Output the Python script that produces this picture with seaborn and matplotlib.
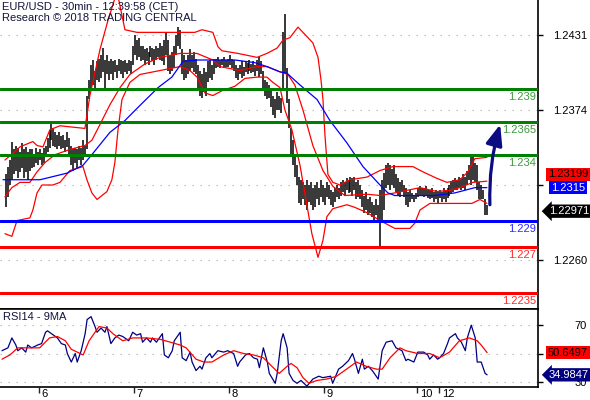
import matplotlib as mpl

mpl.use("Agg")

import matplotlib.pyplot as plt
from matplotlib.transforms import blended_transform_factory
import numpy as np
import seaborn as sns

sns.set_theme(style="white")
plt.rcParams["font.family"] = ["Liberation Sans", "DejaVu Sans"]

# ---- EUR/USD 30min bars (high / low), one per bar, oldest first ----
bar_high = [
    1.2325, 1.2331, 1.2336, 1.2350, 1.2344, 1.2347, 1.2345, 1.2342, 1.2349, 1.2344,
    1.2346, 1.2342, 1.2344, 1.2344, 1.2340, 1.2345, 1.2342, 1.2344, 1.2341, 1.2345,
    1.2347, 1.2353, 1.2359, 1.2363, 1.2360, 1.2357, 1.2355, 1.2357, 1.2354, 1.2355,
    1.2351, 1.2357, 1.2353, 1.2347, 1.2344, 1.2345, 1.2344, 1.2347, 1.2345, 1.2351,
    1.2347, 1.2385, 1.2397, 1.2408, 1.2412, 1.2404, 1.2411, 1.2413, 1.2416, 1.2421,
    1.2412, 1.2416, 1.2411, 1.2413, 1.2411, 1.2412, 1.2408, 1.2413, 1.2412, 1.2411,
    1.2412, 1.2410, 1.2412, 1.2411, 1.2423, 1.2431, 1.2427, 1.2429, 1.2423, 1.2423,
    1.2420, 1.2421, 1.2418, 1.2423, 1.2421, 1.2420, 1.2423, 1.2421, 1.2425, 1.2423,
    1.2427, 1.2433, 1.2427, 1.2416, 1.2418, 1.2423, 1.2431, 1.2437, 1.2435, 1.2420,
    1.2416, 1.2412, 1.2416, 1.2420, 1.2416, 1.2418, 1.2413, 1.2408, 1.2404, 1.2401,
    1.2406, 1.2403, 1.2411, 1.2412, 1.2408, 1.2413, 1.2413, 1.2414, 1.2412, 1.2413,
    1.2414, 1.2412, 1.2413, 1.2416, 1.2413, 1.2412, 1.2408, 1.2406, 1.2408, 1.2411,
    1.2407, 1.2411, 1.2410, 1.2412, 1.2409, 1.2411, 1.2408, 1.2412, 1.2414, 1.2411,
    1.2404, 1.2397, 1.2395, 1.2393, 1.2389, 1.2385, 1.2382, 1.2388, 1.2385, 1.2383,
    1.2433, 1.2447, 1.2406, 1.2382, 1.2360, 1.2351, 1.2338, 1.2332, 1.2323, 1.2321,
    1.2319, 1.2317, 1.2321, 1.2317, 1.2319, 1.2315, 1.2317, 1.2319, 1.2315, 1.2321,
    1.2317, 1.2315, 1.2319, 1.2317, 1.2313, 1.2312, 1.2315, 1.2317, 1.2315, 1.2319,
    1.2321, 1.2319, 1.2322, 1.2321, 1.2323, 1.2322, 1.2323, 1.2319, 1.2321, 1.2317,
    1.2313, 1.2309, 1.2312, 1.2306, 1.2308, 1.2304, 1.2302, 1.2306, 1.2302, 1.2313,
    1.2321, 1.2326, 1.2332, 1.2334, 1.2332, 1.2329, 1.2332, 1.2325, 1.2322, 1.2319,
    1.2321, 1.2317, 1.2315, 1.2312, 1.2313, 1.2311, 1.2309, 1.2311, 1.2315, 1.2316,
    1.2315, 1.2315, 1.2316, 1.2314, 1.2313, 1.2315, 1.2312, 1.2313, 1.2312, 1.2313,
    1.2312, 1.2315, 1.2313, 1.2315, 1.2317, 1.2319, 1.2321, 1.2322, 1.2321, 1.2323,
    1.2322, 1.2325, 1.2323, 1.2328, 1.2332, 1.2340, 1.2338, 1.2334, 1.2332, 1.2319,
    1.2317, 1.2313, 1.2306, 1.2302,
]
bar_low = [
    1.2300, 1.2308, 1.2317, 1.2321, 1.2325, 1.2328, 1.2322, 1.2327, 1.2330, 1.2322,
    1.2327, 1.2321, 1.2328, 1.2330, 1.2331, 1.2334, 1.2332, 1.2336, 1.2332, 1.2334,
    1.2338, 1.2342, 1.2345, 1.2351, 1.2347, 1.2346, 1.2344, 1.2347, 1.2344, 1.2345,
    1.2342, 1.2346, 1.2340, 1.2332, 1.2328, 1.2334, 1.2330, 1.2336, 1.2332, 1.2336,
    1.2340, 1.2344, 1.2382, 1.2391, 1.2393, 1.2389, 1.2397, 1.2395, 1.2398, 1.2403,
    1.2391, 1.2401, 1.2397, 1.2401, 1.2397, 1.2403, 1.2398, 1.2404, 1.2401, 1.2398,
    1.2403, 1.2401, 1.2404, 1.2401, 1.2408, 1.2416, 1.2412, 1.2414, 1.2411, 1.2412,
    1.2408, 1.2411, 1.2408, 1.2414, 1.2411, 1.2408, 1.2412, 1.2414, 1.2412, 1.2411,
    1.2408, 1.2416, 1.2404, 1.2401, 1.2404, 1.2406, 1.2416, 1.2423, 1.2420, 1.2401,
    1.2397, 1.2398, 1.2401, 1.2404, 1.2406, 1.2403, 1.2401, 1.2391, 1.2385, 1.2383,
    1.2388, 1.2385, 1.2395, 1.2398, 1.2397, 1.2401, 1.2406, 1.2407, 1.2406, 1.2408,
    1.2406, 1.2407, 1.2407, 1.2408, 1.2406, 1.2404, 1.2398, 1.2397, 1.2401, 1.2398,
    1.2400, 1.2403, 1.2401, 1.2404, 1.2402, 1.2403, 1.2400, 1.2404, 1.2399, 1.2401,
    1.2391, 1.2385, 1.2382, 1.2383, 1.2376, 1.2370, 1.2368, 1.2374, 1.2374, 1.2372,
    1.2389, 1.2402, 1.2379, 1.2360, 1.2338, 1.2332, 1.2323, 1.2317, 1.2303, 1.2302,
    1.2306, 1.2302, 1.2298, 1.2304, 1.2302, 1.2298, 1.2300, 1.2306, 1.2302, 1.2308,
    1.2304, 1.2302, 1.2308, 1.2306, 1.2302, 1.2300, 1.2304, 1.2308, 1.2306, 1.2309,
    1.2312, 1.2309, 1.2313, 1.2311, 1.2312, 1.2309, 1.2313, 1.2306, 1.2308, 1.2306,
    1.2300, 1.2296, 1.2298, 1.2294, 1.2296, 1.2293, 1.2290, 1.2294, 1.2290, 1.2271,
    1.2290, 1.2298, 1.2315, 1.2317, 1.2313, 1.2317, 1.2315, 1.2312, 1.2309, 1.2308,
    1.2312, 1.2308, 1.2302, 1.2300, 1.2304, 1.2306, 1.2304, 1.2306, 1.2308, 1.2309,
    1.2309, 1.2308, 1.2309, 1.2307, 1.2306, 1.2307, 1.2304, 1.2306, 1.2303, 1.2307,
    1.2304, 1.2306, 1.2304, 1.2307, 1.2309, 1.2311, 1.2312, 1.2313, 1.2313, 1.2315,
    1.2313, 1.2315, 1.2313, 1.2317, 1.2321, 1.2317, 1.2321, 1.2319, 1.2313, 1.2306,
    1.2306, 1.2306, 1.2294, 1.2294,
]
last_close = 1.22971

# ---- Bollinger bands / moving average, sampled at bar positions ----
bb_upper_bar = [-0.5, 3.5, 7.1, 13.6, 15.7, 18.7, 22.2, 27.3, 39.9, 42.4, 47.5, 51.5, 56.1,
                60.1, 66.2, 77.8, 87.9, 95.4, 99.0, 104.5, 107.1, 109.1, 117.2, 126.8, 131.8,
                136.9, 139.9, 143.4, 147.5, 150.0, 155.0, 157.6, 159.1, 160.1, 161.1, 162.6,
                165.1, 168.7, 173.7, 182.3, 188.9, 195.4, 205.5, 210.6, 217.7, 222.7, 229.3,
                233.3, 236.8, 242.9]
bb_upper = [1.2336, 1.2341, 1.2346, 1.2350, 1.2347, 1.2346, 1.2359, 1.2362, 1.2360, 1.2385,
            1.2420, 1.2442, 1.2464, 1.2435, 1.2433, 1.2433, 1.2433, 1.2433, 1.2435, 1.2433,
            1.2422, 1.2419, 1.2417, 1.2414, 1.2417, 1.2421, 1.2427, 1.2429, 1.2437, 1.2433,
            1.2425, 1.2414, 1.2397, 1.2382, 1.2355, 1.2325, 1.2319, 1.2317, 1.2321, 1.2323,
            1.2328, 1.2331, 1.2331, 1.2327, 1.2322, 1.2319, 1.2321, 1.2327, 1.2337, 1.2338]

bb_mid_bar = [-0.5, 3.0, 7.1, 12.1, 15.7, 19.7, 24.7, 32.3, 39.9, 43.4, 47.5, 52.5, 57.6,
              62.6, 70.2, 77.8, 87.9, 96.5, 104.5, 108.1, 118.2, 126.8, 131.8, 138.4, 142.4,
              145.9, 150.0, 155.0, 160.1, 165.1, 171.2, 182.3, 188.9, 196.4, 209.1, 217.7,
              224.2, 229.3, 235.8, 242.9]
bb_mid = [1.2308, 1.2315, 1.2319, 1.2319, 1.2327, 1.2334, 1.2340, 1.2344, 1.2347, 1.2351,
          1.2363, 1.2378, 1.2391, 1.2401, 1.2409, 1.2414, 1.2417, 1.2417, 1.2412, 1.2407,
          1.2404, 1.2407, 1.2407, 1.2403, 1.2401, 1.2393, 1.2374, 1.2347, 1.2328, 1.2316,
          1.2309, 1.2310, 1.2309, 1.2311, 1.2315, 1.2312, 1.2313, 1.2315, 1.2319, 1.23199]

bb_lower_bar = [-0.5, 3.0, 5.6, 12.1, 13.6, 15.7, 18.2, 23.7, 27.3, 32.3, 38.9, 40.9, 43.4,
                46.0, 51.0, 53.5, 55.0, 56.6, 58.6, 62.6, 67.7, 77.8, 87.9, 92.9, 96.5, 100.5,
                104.5, 109.6, 115.6, 120.7, 126.8, 131.8, 134.8, 138.4, 140.9, 144.4, 148.5,
                151.5, 154.5, 157.6, 160.1, 162.1, 165.1, 172.2, 176.2, 182.3, 188.9, 196.4,
                204.0, 206.5, 209.1, 214.1, 223.2, 235.3, 239.4, 242.9]
bb_lower = [1.2280, 1.2278, 1.2290, 1.2292, 1.2298, 1.2311, 1.2317, 1.2317, 1.2319, 1.2328,
            1.2331, 1.2321, 1.2311, 1.2306, 1.2312, 1.2321, 1.2334, 1.2359, 1.2382, 1.2395,
            1.2401, 1.2404, 1.2407, 1.2404, 1.2399, 1.2387, 1.2385, 1.2389, 1.2392, 1.2398,
            1.2399, 1.2399, 1.2395, 1.2391, 1.2374, 1.2359, 1.2332, 1.2306, 1.2280, 1.2262,
            1.2275, 1.2293, 1.2299, 1.2302, 1.2300, 1.2296, 1.2290, 1.2284, 1.2284, 1.2288,
            1.2298, 1.2303, 1.2303, 1.2303, 1.2306, 1.2303]

ma_bar = [-1.5, 17.2, 30.8, 38.9, 43.9, 52.5, 60.1, 66.7, 76.8, 83.8, 89.4, 97.0, 115.6,
          125.7, 131.8, 138.4, 141.9, 148.5, 157.1, 163.6, 172.2, 180.3, 188.9, 192.9, 196.4,
          216.6, 226.7, 231.8, 236.8, 242.9]
ma_line = [1.2321, 1.2321, 1.2326, 1.2332, 1.2341, 1.2357, 1.2366, 1.2376, 1.2391, 1.2399,
           1.2411, 1.2412, 1.2412, 1.2410, 1.2407, 1.2403, 1.2402, 1.2393, 1.2382, 1.2366,
           1.2349, 1.2331, 1.2317, 1.2311, 1.2309, 1.2309, 1.2311, 1.2313, 1.2315, 1.2315]

# ---- RSI14 and its 9MA ----
rsi_bar = [-2, 1, 3, 5, 6, 8, 10, 11, 13, 16, 18, 20, 21, 24, 26, 28, 30, 31, 33, 35, 36, 38,
           40, 41, 43, 45, 46, 48, 50, 51, 53, 55, 57, 59, 60, 62, 64, 66, 68, 69, 71, 73, 74,
           76, 79, 80, 82, 84, 85, 88, 89, 91, 93, 94, 96, 98, 99, 101, 103, 104, 107, 110,
           112, 115, 117, 118, 121, 123, 125, 127, 128, 130, 132, 133, 136, 137, 139, 140, 142,
           143, 145, 147, 149, 152, 155, 158, 160, 164, 165, 168, 170, 173, 175, 176, 178, 180,
           181, 183, 185, 188, 190, 192, 195, 197, 200, 202, 203, 206, 208, 211, 213, 214, 216,
           218, 219, 221, 223, 224, 227, 228, 230, 232, 233, 235, 237, 238, 240, 242, 243]
rsi = [52, 54, 61, 56, 52, 54, 51, 56, 54, 56, 57, 65, 66, 63, 61, 57, 56, 50, 44, 50, 44, 52,
       64, 74, 76, 69, 65, 68, 65, 69, 57, 61, 63, 62, 61, 59, 65, 63, 64, 58, 61, 58, 61,
       58, 64, 49, 47, 52, 59, 65, 47, 45, 51, 44, 38, 41, 39, 47, 50, 47, 52, 51,
       52, 50, 41, 44, 49, 50, 47, 46, 40, 54, 44, 36, 29, 36, 59, 64, 54,
       36, 31, 29, 31, 27, 32, 34, 33, 34, 29, 39, 41, 45, 50, 46, 36, 46,
       39, 41, 38, 32, 52, 58, 59, 54, 52, 45, 46, 44, 51, 51, 49, 46, 49,
       46, 47, 50, 57, 61, 64, 61, 58, 52, 61, 70, 61, 44, 44, 36, 34.9847]

rsi_ma_bar = [-2, 2, 6, 11, 17, 22, 26, 30, 33, 39, 42, 47, 51, 54, 59, 64, 71, 78, 83, 88, 91,
              96, 100, 104, 110, 115, 120, 125, 130, 135, 138, 142, 144, 147, 150, 153, 157,
              162, 167, 172, 177, 182, 187, 190, 194, 199, 202, 208, 214, 219, 224, 229, 234,
              238, 240, 243]
rsi_ma = [46, 49, 54, 54, 54, 61, 62, 59, 53, 49, 59, 69, 68, 64, 59, 61, 61, 60, 58, 56, 54,
          46, 44, 44, 49, 52, 50, 49, 47, 40, 36, 41, 43, 40, 33, 29, 31, 32, 34, 39, 44,
          41, 39, 39, 47, 54, 52, 50, 50, 47, 51, 59, 61, 59, 56, 50.6497]

# ---- support / resistance levels and axis labels ----
level_values = [1.239, 1.2365, 1.234, 1.229, 1.227, 1.2235]
level_labels = ["1.239", "1.2365", "1.234", "1.229", "1.227", "1.2235"]
level_colors = ["#008000", "#008000", "#008000", "#0000ff", "#ff0000", "#ff0000"]
level_text_colors = ["#3a9a3a", "#3a9a3a", "#3a9a3a", "#2a2aff", "#ff2a2a", "#ff2a2a"]
price_ticks = [1.2431, 1.2374, 1.2317, 1.2260]
price_tick_labels = ["1.2431", "1.2374", "", "1.2260"]  # 1.2317 sits under the MA tag
rsi_ticks = [30, 50, 70]
rsi_tick_labels = ["30", "", "70"]  # 50 sits under the RSI-MA tag
day_pos = [16.5, 64.5, 112.5, 160.5, 207.5, 218.5]
day_labels = ["6", "7", "8", "9", "10", "12"]
arrow_start = (244.4, 1.2302)
arrow_end = (249.6, 1.2363)

W, H = 590, 400
fig = plt.figure(figsize=(W / 100, H / 100), dpi=100)
ax = fig.add_axes([0, 1 - 309 / H, 538 / W, 309 / H])
ax_rsi = fig.add_axes([0, 1 - 387 / H, 538 / W, 78 / H])
px = 72 / 100  # points per pixel

bars = np.arange(len(bar_high))
x_min, x_max = -3.0, 268.7

# ---- price panel ----
for v in price_ticks:
    ax.axhline(v, color="#b4b4b4", lw=0.8, ls=(0, (1.2, 6)), zorder=1)
ax.vlines(bars, bar_low, bar_high, color="black", lw=1.1, zorder=2)
sns.lineplot(x=bb_upper_bar, y=bb_upper, ax=ax, color="#ff0000", lw=0.9,
             estimator=None, sort=False, zorder=3)
sns.lineplot(x=bb_mid_bar, y=bb_mid, ax=ax, color="#ff0000", lw=0.9,
             estimator=None, sort=False, zorder=3)
sns.lineplot(x=bb_lower_bar, y=bb_lower, ax=ax, color="#ff0000", lw=0.9,
             estimator=None, sort=False, zorder=3)
sns.lineplot(x=ma_bar, y=ma_line, ax=ax, color="#0000ff", lw=0.9,
             estimator=None, sort=False, zorder=3)

blend = blended_transform_factory(ax.transAxes, ax.transData)
for v, lbl, c, tc in zip(level_values, level_labels, level_colors, level_text_colors):
    ax.axhline(v, color=c, lw=3 * px, zorder=4)
    ax.annotate(lbl, xy=(1, v), xycoords=blend, xytext=(-2, -8), textcoords="offset pixels",
                ha="right", va="center", fontsize=8, color=tc, zorder=5)

ax.annotate("", xy=arrow_end, xytext=arrow_start,
            arrowprops=dict(arrowstyle="-|>,head_length=1.25,head_width=0.5", lw=2.3,
                            color="#0b0b82", shrinkA=0, shrinkB=0, mutation_scale=10,
                            connectionstyle="arc3,rad=-0.08"), zorder=6)

ax.set_xlim(x_min, x_max)
ax.set_ylim(1.24576 - 309 * 0.0000760, 1.24576)
ax.set_xticks([])
ax.yaxis.tick_right()
ax.set_yticks(price_ticks, labels=price_tick_labels)
ax.tick_params(axis="y", direction="out", length=5 * px, width=1, pad=44 * px,
               labelsize=8, colors="black")
for t in ax.get_yticklabels():
    t.set_horizontalalignment("right")
for side in ["top", "left"]:
    ax.spines[side].set_visible(False)
for side in ["bottom", "right"]:
    ax.spines[side].set_color("black")
    ax.spines[side].set_linewidth(1.2)
ax.set_xlabel("")
ax.set_ylabel("")

# price tags
ax.annotate("1.23199", xy=(1, 1.2325), xycoords=blend, xytext=(30, 0),
            textcoords="offset pixels", ha="center", va="center", fontsize=8, color="black",
            bbox=dict(boxstyle="square,pad=0.15", fc="#ff0000", ec="none"), annotation_clip=False)
ax.annotate("1.2315", xy=(1, 1.2315), xycoords=blend, xytext=(30, 0),
            textcoords="offset pixels", ha="center", va="center", fontsize=8, color="white",
            bbox=dict(boxstyle="square,pad=0.15", fc="#0000ff", ec="none"), annotation_clip=False)
ax.annotate(f"{last_close:.5f}", xy=(1, last_close), xycoords=blend, xytext=(31, 0),
            textcoords="offset pixels", ha="center", va="center", fontsize=8, color="white",
            bbox=dict(boxstyle="larrow,pad=0.15", fc="black", ec="none"), annotation_clip=False)

fig.text(2 / W, 1 - 7 / H, "EUR/USD - 30min - 12:39:58 (CET)", ha="left", va="center",
         fontsize=8, color="#14143c")
fig.text(2 / W, 1 - 18 / H, "Research \u00a9 2018 TRADING CENTRAL", ha="left", va="center",
         fontsize=8, color="#14143c")

# ---- RSI panel ----
for v in rsi_ticks:
    ax_rsi.axhline(v, color="#b4b4b4", lw=0.8, ls=(0, (1.2, 6)), zorder=1)
sns.lineplot(x=rsi_bar, y=rsi, ax=ax_rsi, color="#000080", lw=0.9,
             estimator=None, sort=False, zorder=3)
sns.lineplot(x=rsi_ma_bar, y=rsi_ma, ax=ax_rsi, color="#ff0000", lw=0.9,
             estimator=None, sort=False, zorder=3)
ax_rsi.set_xlim(x_min, x_max)
ax_rsi.set_ylim(26.4, 81.4)
ax_rsi.yaxis.tick_right()
ax_rsi.set_yticks(rsi_ticks, labels=rsi_tick_labels)
ax_rsi.tick_params(axis="y", direction="out", length=5 * px, width=1, pad=44 * px,
                   labelsize=8, colors="black")
for t in ax_rsi.get_yticklabels():
    t.set_horizontalalignment("right")
ax_rsi.set_xticks(day_pos, labels=[""] * len(day_pos))
ax_rsi.tick_params(axis="x", direction="out", length=6 * px, width=1, bottom=True)
blend_x = blended_transform_factory(ax_rsi.transData, ax_rsi.transAxes)
for p, lbl in zip(day_pos, day_labels):
    ax_rsi.annotate(lbl, xy=(p, 0), xycoords=blend_x, xytext=(3, -7), textcoords="offset pixels",
                    ha="left", va="center", fontsize=8, color="black", annotation_clip=False)
ax_rsi.spines["left"].set_visible(False)
for side in ["top", "bottom", "right"]:
    ax_rsi.spines[side].set_color("black")
    ax_rsi.spines[side].set_linewidth(1.2)
ax_rsi.set_xlabel("")
ax_rsi.set_ylabel("")
ax_rsi.text(3 / 538, (387 - 317) / 78, "RSI14 - 9MA", transform=ax_rsi.transAxes,
            ha="left", va="center", fontsize=8, color="#14143c")

blend_r = blended_transform_factory(ax_rsi.transAxes, ax_rsi.transData)
ax_rsi.annotate("50.6497", xy=(1, 50.6), xycoords=blend_r, xytext=(30, 0),
                textcoords="offset pixels", ha="center", va="center", fontsize=8, color="black",
                bbox=dict(boxstyle="square,pad=0.15", fc="#ff0000", ec="none"),
                annotation_clip=False)
ax_rsi.annotate("34.9847", xy=(1, 34.98), xycoords=blend_r, xytext=(31, 0),
                textcoords="offset pixels", ha="center", va="center", fontsize=8, color="white",
                bbox=dict(boxstyle="larrow,pad=0.15", fc="#000080", ec="none"),
                annotation_clip=False)

fig.savefig("out.png", dpi=100)
plt.close(fig)
